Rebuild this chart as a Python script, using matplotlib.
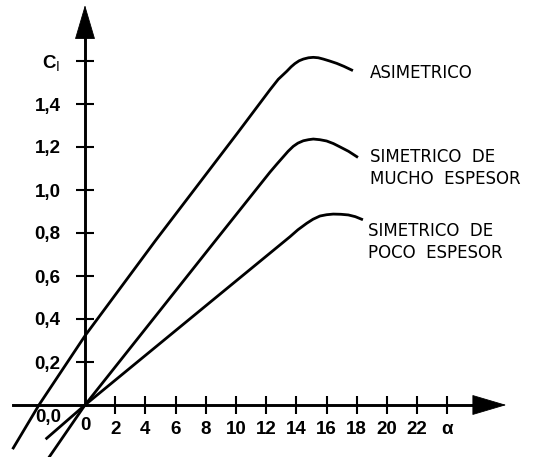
import matplotlib
matplotlib.use('Agg')

import matplotlib.pyplot as plt

# curvas Cl - alfa
alfa_asim = [-4.75, -3.05, 0, 4.67, 10.1, 12.25, 12.8, 13.36, 13.65, 13.9, 14.18, 14.46, 14.8,
             15.12, 15.45, 15.78, 16.2, 16.67, 17.15, 17.66]
cl_asim = [-0.2, 0.0, 0.322, 0.765, 1.265, 1.466, 1.515, 1.552, 1.573, 1.588, 1.601, 1.609, 1.615,
           1.617, 1.615, 1.609, 1.600, 1.589, 1.575, 1.558]

alfa_mucho = [-2.35, 0, 8.53, 12.25, 12.7, 13.1, 13.45, 13.79, 14.1, 14.46, 14.8, 15.12, 15.55,
              16.0, 16.45, 16.9, 17.45, 18.0]
cl_mucho = [-0.24, 0.0, 0.755, 1.083, 1.12, 1.152, 1.18, 1.203, 1.218, 1.229, 1.234, 1.237, 1.234,
            1.228, 1.216, 1.20, 1.18, 1.155]

alfa_poco = [-2.54, 0, 8.53, 13.58, 14.1, 14.68, 15.1, 15.56, 16.0, 16.44, 16.95, 17.44, 17.9, 18.32]
cl_poco = [-0.155, 0.0, 0.492, 0.783, 0.815, 0.845, 0.864, 0.879, 0.885, 0.888, 0.887, 0.884,
           0.876, 0.864]

xticks = [2, 4, 6, 8, 10, 12, 14, 16, 18, 20, 22, 24]
xlabels = ['2', '4', '6', '8', '10', '12', '14', '16', '18', '20', '22', 'α']
yticks = [0.2, 0.4, 0.6, 0.8, 1.0, 1.2, 1.4, 1.6]
ylabels = ['0,2', '0,4', '0,6', '0,8', '1,0', '1,2', '1,4', r'C$_\mathrm{l}$']

nombres = ['ASIMETRICO', 'SIMETRICO  DE\nMUCHO  ESPESOR', 'SIMETRICO  DE\nPOCO  ESPESOR']

fuente_num = ['Liberation Sans', 'DejaVu Sans']
tam_num = 13.5

fig = plt.figure(figsize=(5.33, 4.57), dpi=100)
ax = fig.add_axes([0, 0, 1, 1])
ax.set_xlim(-85 / 15.1, 448 / 15.1)
ax.set_ylim(-52 / 215, 405 / 215)

for a, c in [(alfa_asim, cl_asim), (alfa_mucho, cl_mucho), (alfa_poco, cl_poco)]:
    ax.plot(a, c, color='black', lw=2.0, solid_joinstyle='round')

# ejes en el origen
for s in ['top', 'right']:
    ax.spines[s].set_visible(False)
ax.spines['left'].set_position(('data', 0))
ax.spines['bottom'].set_position(('data', 0))
ax.spines['left'].set_bounds(0, 1.75)
ax.spines['bottom'].set_bounds(-4.77, 26.5)
ax.spines['left'].set_linewidth(2.1)
ax.spines['bottom'].set_linewidth(2.1)

flecha = dict(arrowstyle='-|>,head_length=1.15,head_width=0.34', mutation_scale=20,
              color='black', lw=0.6, shrinkA=0, shrinkB=0)
ax.annotate('', xy=(27.9, 0), xytext=(25.6, 0), arrowprops=flecha)
ax.annotate('', xy=(0, 1.86), xytext=(0, 1.69), arrowprops=flecha)

ax.set_xticks(xticks)
ax.set_xticklabels(xlabels, family=fuente_num, fontsize=tam_num, fontweight='bold')
ax.set_yticks(yticks)
ax.set_yticklabels(ylabels, family=fuente_num, fontsize=tam_num, fontweight='bold')
ax.tick_params(direction='inout', length=13, width=1.5, color='black')
ax.tick_params(axis='x', pad=5)
ax.tick_params(axis='y', pad=11)

ax.text(0, -0.055, '0', ha='center', va='top', family=fuente_num, fontsize=tam_num, fontweight='bold')
ax.text(-2.45, -0.06, '0,0', ha='center', va='center', family=fuente_num, fontsize=tam_num,
        fontweight='bold')

# nombres de las curvas
pos_nombres = [(18.87, 1.544), (18.87, 1.102), (18.75, 0.756)]
for nombre, (x, y) in zip(nombres, pos_nombres):
    ax.text(x, y, nombre, ha='left', va='center', fontsize=12, linespacing=1.28)

fig.savefig('out.png', dpi=100)
